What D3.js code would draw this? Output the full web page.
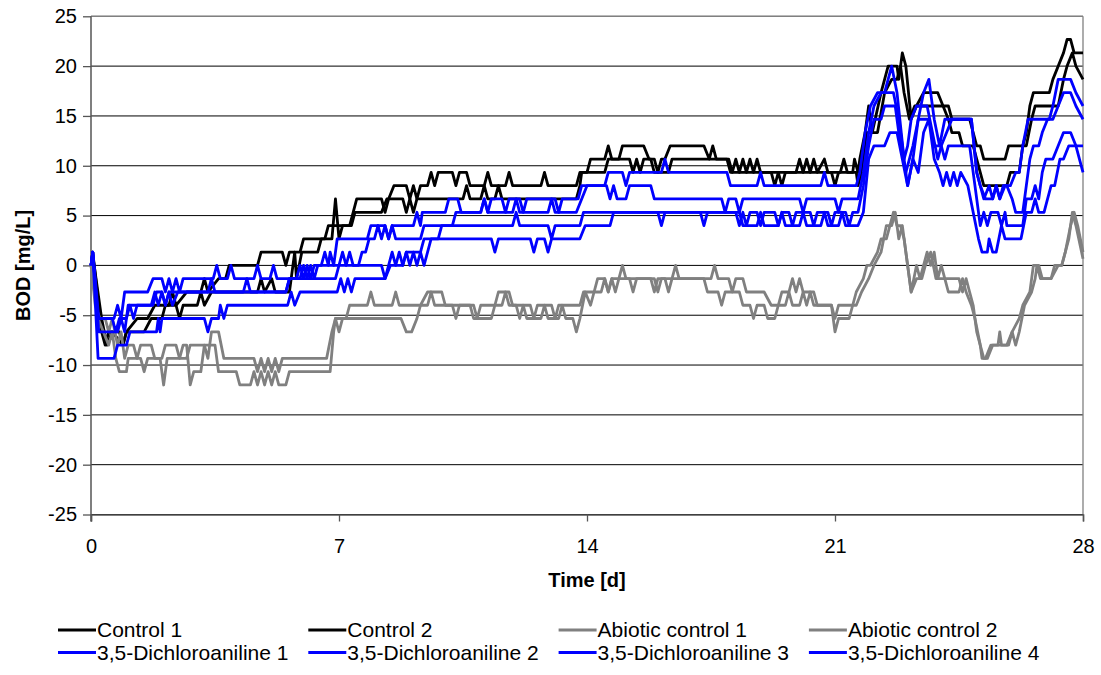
<!DOCTYPE html>
<html>
<head>
<meta charset="utf-8">
<script src="https://cdnjs.cloudflare.com/ajax/libs/d3/7.8.5/d3.min.js"></script>
<style>
    body { margin: 0; background: #fff; }
    text { font-family: "Liberation Sans", Arial, sans-serif; }
</style>
</head>
<body>
<div id="chart"></div>
<script>
// BOD readings [day, mg/L] (turning points only)
const control1 = [[0,0],[0.05,1.33],[0.3,-6.67],[0.4,-8],[0.5,-6.67],[0.8,-6.67],[0.9,-8],[1.0,-6.67],[1.3,-5.33],[1.6,-5.33],[1.8,-4],[2.2,-4],[2.3,-2.67],[2.4,-4],[2.7,-2.67],[3.1,-2.67],[3.2,-1.33],[3.3,-2.67],[3.6,-1.33],[3.8,-1.33],[3.9,0],[4.7,0],[4.8,1.33],[5.4,1.33],[5.5,0],[5.6,1.33],[5.9,1.33],[6.0,2.67],[6.6,2.67],[6.7,4],[7.3,4],[7.4,5.33],[7.5,6.67],[8.2,6.67],[8.3,5.33],[8.4,6.67],[8.55,8],[8.9,8],[9.0,6.67],[9.1,8],[9.2,6.67],[9.3,8],[9.5,8],[9.6,9.33],[9.7,8],[9.8,9.33],[10.2,9.33],[10.3,8],[10.4,9.33],[10.6,9.33],[10.7,8],[11.1,8],[11.2,9.33],[11.3,8],[11.7,8],[11.8,9.33],[11.9,8],[12.7,8],[12.8,9.33],[12.9,8],[13.7,8],[13.8,9.33],[14.0,9.33],[14.1,10.67],[14.5,10.67],[14.6,12],[14.7,10.67],[14.9,10.67],[15.0,12],[15.6,12],[15.75,10.67],[15.9,10.67],[16.0,9.33],[16.1,10.67],[16.2,10.67],[16.35,12],[17.3,12],[17.45,10.67],[17.55,12],[17.65,10.67],[18.0,10.67],[18.1,9.33],[18.2,10.67],[18.3,9.33],[18.4,10.67],[18.5,9.33],[18.6,10.67],[18.7,9.33],[18.8,10.67],[18.9,9.33],[19.9,9.33],[20.0,10.67],[20.1,9.33],[20.2,10.67],[20.3,9.33],[20.4,10.67],[20.5,9.33],[20.7,10.67],[20.8,9.33],[21.15,9.33],[21.25,10.67],[21.35,9.33],[21.5,9.33],[21.55,10.67],[21.65,9.33],[21.7,10.67],[21.85,13.33],[21.95,16],[22.05,13.33],[22.3,17.33],[22.5,20],[22.75,20],[22.8,18.67],[22.9,21.33],[23.0,20],[23.15,14.67],[23.3,16],[23.5,17.33],[23.9,17.33],[24.05,16],[24.2,16],[24.3,14.67],[24.8,14.67],[24.9,13.33],[25.0,12],[25.1,12],[25.2,10.67],[25.8,10.67],[25.9,12],[26.3,12],[26.4,13.33],[26.5,16],[26.6,17.33],[27.05,17.33],[27.15,18.67],[27.3,20],[27.45,21.33],[27.55,22.67],[27.65,22.67],[27.75,21.33],[28,21.33]];

const control2 = [[0,0],[0.05,1.0],[0.3,-5.33],[0.45,-8],[0.6,-6.67],[0.9,-8],[1.0,-6.67],[1.5,-6.67],[1.7,-5.33],[2.0,-5.33],[2.1,-4],[2.4,-4],[2.5,-5.33],[2.6,-4],[3.0,-4],[3.1,-2.67],[3.2,-4],[3.4,-2.67],[4.7,-2.67],[4.8,-1.33],[4.9,-2.67],[5.1,-1.33],[5.2,-2.67],[5.6,-2.67],[5.75,1.33],[5.8,-1.33],[5.95,1.33],[6.4,1.33],[6.5,2.67],[6.8,2.67],[6.9,6.67],[7.0,2.67],[7.1,4],[7.35,4],[7.45,5.33],[8.2,5.33],[8.35,6.67],[8.8,6.67],[8.9,5.33],[9.0,6.67],[9.1,5.33],[9.2,6.67],[10.5,6.67],[10.6,8],[10.7,6.67],[11.0,6.67],[11.1,8],[11.2,6.67],[11.4,6.67],[11.5,8],[11.6,6.67],[13.7,6.67],[13.8,8],[13.85,9.33],[14.5,9.33],[14.6,10.67],[15.2,10.67],[15.3,9.33],[15.4,10.67],[15.5,9.33],[15.6,10.67],[15.8,10.67],[15.9,9.33],[16.3,9.33],[16.4,10.67],[17.95,10.67],[18.05,9.33],[19.2,9.33],[19.3,8],[19.4,9.33],[19.5,8],[19.6,9.33],[20.9,9.33],[21.0,8],[21.1,9.33],[21.6,9.33],[21.65,8],[21.75,9.33],[21.9,13.33],[22.2,13.33],[22.4,17.33],[22.6,18.67],[22.75,18.67],[22.85,20],[22.95,17.33],[23.1,14.67],[23.25,16],[24.05,16],[24.2,14.67],[24.3,13.33],[24.5,13.33],[24.6,12],[24.9,12],[25.0,10.67],[25.1,9.33],[25.2,8],[25.85,8],[25.95,9.33],[26.2,9.33],[26.3,12],[26.4,12],[26.55,14.67],[26.65,16],[27.3,16],[27.45,18.67],[27.55,20],[27.7,21.33],[27.8,20],[28,18.67]];

const abiotic1 = [[0,0],[0.12,-4],[0.25,-5.33],[0.4,-5.33],[0.5,-6.67],[0.6,-5.33],[0.75,-8],[0.85,-6.67],[0.95,-9.33],[1.05,-8],[1.2,-8],[1.3,-9.33],[1.4,-8],[1.7,-8],[1.8,-9.33],[2.0,-9.33],[2.1,-8],[2.4,-8],[2.5,-9.33],[2.7,-9.33],[2.8,-8],[3.2,-8],[3.3,-9.33],[3.4,-6.67],[3.6,-6.67],[3.75,-9.33],[4.6,-9.33],[4.7,-10.67],[4.8,-9.33],[4.9,-10.67],[5.0,-9.33],[5.1,-10.67],[5.2,-9.33],[5.3,-10.67],[5.4,-9.33],[6.65,-9.33],[6.8,-6.67],[6.9,-5.33],[7.2,-5.33],[7.3,-4],[7.8,-4],[7.9,-2.67],[8.0,-4],[8.5,-4],[8.6,-2.67],[8.7,-4],[9.3,-4],[9.5,-2.67],[9.9,-2.67],[10.0,-4],[10.8,-4],[10.9,-5.33],[11.0,-4],[11.4,-4],[11.5,-2.67],[11.8,-2.67],[11.9,-4],[12.4,-4],[12.5,-5.33],[12.6,-4],[13.0,-4],[13.1,-5.33],[13.2,-4],[13.8,-4],[13.9,-2.67],[14.2,-2.67],[14.3,-1.33],[14.5,-1.33],[14.6,-2.67],[14.7,-1.33],[14.9,-1.33],[15.0,0],[15.1,-1.33],[15.9,-1.33],[16.0,-2.67],[16.1,-1.33],[16.4,-1.33],[16.5,0],[16.6,-1.33],[17.5,-1.33],[17.6,0],[17.7,-1.33],[18.0,-1.33],[18.1,-2.67],[18.2,-1.33],[18.4,-1.33],[18.5,-2.67],[19.0,-2.67],[19.2,-4],[19.4,-4],[19.5,-2.67],[19.7,-2.67],[19.8,-1.33],[19.9,-2.67],[20.0,-1.33],[20.1,-2.67],[20.4,-2.67],[20.5,-4],[20.9,-4],[21.0,-5.33],[21.1,-4],[21.5,-4],[21.6,-2.67],[21.8,-1.33],[21.9,0],[22.0,0],[22.2,1.33],[22.3,2.67],[22.45,2.67],[22.65,5.33],[22.75,4],[22.85,4],[22.95,2.67],[23.15,-2.67],[23.3,0],[23.4,-1.33],[23.5,0],[23.6,1.33],[23.7,0],[23.8,1.33],[23.9,-1.33],[24.0,0],[24.1,-1.33],[24.5,-1.33],[24.6,-2.67],[24.7,-1.33],[24.8,-2.67],[24.9,-4],[25.0,-6.67],[25.1,-8],[25.15,-9.33],[25.25,-9.33],[25.4,-8],[25.6,-8],[25.65,-6.67],[25.7,-8],[25.85,-8],[26.0,-6.67],[26.2,-5.33],[26.3,-4],[26.5,-2.67],[26.6,0],[26.75,0],[26.85,-1.33],[27.1,-1.33],[27.3,0],[27.4,0],[27.5,1.33],[27.65,4],[27.75,5.33],[27.85,4],[28,1.33]];

const abiotic2 = [[0,0],[0.1,-2.67],[0.2,-5.33],[0.35,-6.67],[0.5,-8],[0.6,-6.67],[0.7,-9.33],[0.8,-10.67],[1.0,-10.67],[1.05,-9.33],[1.4,-9.33],[1.5,-10.67],[1.6,-9.33],[1.95,-9.33],[2.05,-12],[2.15,-9.33],[2.5,-9.33],[2.6,-8],[2.7,-8],[2.8,-12],[2.9,-10.67],[3.1,-10.67],[3.2,-8],[3.5,-8],[3.6,-10.67],[4.1,-10.67],[4.2,-12],[4.5,-12],[4.6,-10.67],[4.7,-12],[4.8,-10.67],[4.9,-12],[5.0,-10.67],[5.1,-12],[5.2,-10.67],[5.3,-12],[5.5,-12],[5.6,-10.67],[6.75,-10.67],[6.85,-6.67],[6.9,-5.33],[7.0,-6.67],[7.1,-5.33],[8.75,-5.33],[8.9,-6.67],[9.05,-6.67],[9.2,-5.33],[9.3,-4],[9.5,-4],[9.6,-2.67],[9.7,-4],[10.2,-4],[10.3,-5.33],[10.4,-4],[10.7,-4],[10.8,-5.33],[11.3,-5.33],[11.4,-4],[11.6,-4],[11.7,-2.67],[11.8,-4],[12.0,-4],[12.1,-5.33],[12.2,-4],[12.3,-5.33],[12.7,-5.33],[12.8,-4],[12.9,-5.33],[13.2,-5.33],[13.3,-4],[13.4,-5.33],[13.6,-5.33],[13.7,-6.67],[13.8,-5.33],[13.95,-2.67],[14.1,-4],[14.2,-2.67],[14.4,-2.67],[14.5,-1.33],[14.6,-2.67],[14.7,-1.33],[14.8,-2.67],[14.9,-1.33],[15.2,-1.33],[15.3,-2.67],[15.4,-1.33],[15.8,-1.33],[15.9,-2.67],[16.0,-1.33],[16.2,-1.33],[16.3,-2.67],[16.4,-1.33],[17.3,-1.33],[17.4,-2.67],[17.7,-2.67],[17.8,-4],[17.9,-2.67],[18.3,-2.67],[18.4,-4],[18.6,-4],[18.7,-5.33],[18.8,-4],[19.0,-4],[19.1,-5.33],[19.3,-5.33],[19.4,-4],[19.6,-4],[19.7,-2.67],[19.8,-4],[20.0,-4],[20.1,-2.67],[20.2,-4],[20.3,-2.67],[20.4,-4],[20.9,-4],[21.0,-6.67],[21.1,-5.33],[21.4,-5.33],[21.5,-4],[21.6,-4],[21.75,-2.67],[21.95,-1.33],[22.1,0],[22.3,1.33],[22.45,4],[22.6,4],[22.7,5.33],[22.8,2.67],[22.9,4],[23.1,-1.33],[23.15,-2.67],[23.3,-1.33],[23.45,-1.33],[23.55,0],[23.7,1.33],[23.85,-1.33],[24.1,-1.33],[24.2,-2.67],[24.5,-2.67],[24.6,-1.33],[24.7,-2.67],[24.85,-4],[24.95,-5.33],[25.1,-8],[25.2,-9.33],[25.3,-9.33],[25.45,-8],[25.9,-8],[26.0,-6.67],[26.1,-8],[26.2,-6.67],[26.35,-4],[26.55,-2.67],[26.65,-1.33],[26.7,0],[26.8,-1.33],[27.1,-1.33],[27.2,0],[27.4,0],[27.5,1.33],[27.6,2.67],[27.7,5.33],[27.8,4],[28,0.67]];

const dca1 = [[0,0],[0.05,1.33],[0.2,-5.33],[0.65,-5.33],[0.75,-4],[0.85,-5.33],[0.95,-2.67],[1.6,-2.67],[1.75,-1.33],[2.0,-1.33],[2.1,-2.67],[2.2,-1.33],[2.3,-2.67],[2.4,-1.33],[2.5,-2.67],[2.6,-1.33],[3.45,-1.33],[3.55,0],[3.65,-1.33],[3.85,-1.33],[3.95,0],[4.05,-1.33],[4.6,-1.33],[4.7,0],[4.8,-1.33],[5.05,-1.33],[5.15,0],[5.25,-1.33],[5.9,-1.33],[6.0,0],[6.1,-1.33],[6.2,0],[6.3,-1.33],[6.4,0],[6.7,0],[6.75,1.33],[6.85,0],[6.95,2.67],[7.8,2.67],[7.9,4],[8.3,4],[8.4,2.67],[8.5,4],[9.1,4],[9.2,5.33],[9.3,4],[9.35,5.33],[10.0,5.33],[10.1,6.67],[10.35,6.67],[10.45,5.33],[11.0,5.33],[11.1,6.67],[11.2,5.33],[11.3,6.67],[11.6,6.67],[11.7,5.33],[11.8,6.67],[12.1,6.67],[12.2,5.33],[12.3,6.67],[13.1,6.67],[13.2,5.33],[13.3,6.67],[13.75,6.67],[13.85,8],[14.5,8],[14.6,9.33],[15.0,9.33],[15.1,8],[15.2,9.33],[16.1,9.33],[16.2,10.67],[16.3,9.33],[17.95,9.33],[18.05,8],[18.8,8],[18.9,9.33],[19.0,8],[20.6,8],[20.7,9.33],[20.8,8],[21.6,8],[21.7,9.33],[21.85,13.33],[22.0,16],[22.2,17.33],[22.4,17.33],[22.6,20],[22.75,17.33],[22.95,10.67],[23.05,8],[23.2,10.67],[23.35,14.67],[23.5,17.33],[23.65,18.67],[23.8,14.67],[23.95,12],[24.1,14.67],[24.85,14.67],[25.0,9.33],[25.1,8],[25.25,6.67],[25.45,6.67],[25.55,8],[25.65,6.67],[25.8,8],[25.95,8],[26.1,9.33],[26.2,9.33],[26.3,12],[26.45,14.67],[27.05,14.67],[27.15,16],[27.3,18.67],[27.65,18.67],[27.8,17.33],[28,16]];

const dca2 = [[0,0],[0.05,1.33],[0.22,-6.67],[0.75,-6.67],[0.85,-5.33],[0.95,-6.67],[1.05,-4],[1.7,-4],[1.8,-2.67],[1.9,-4],[2.0,-2.67],[2.1,-4],[2.2,-2.67],[3.3,-2.67],[3.4,-1.33],[3.5,-2.67],[4.3,-2.67],[4.4,-1.33],[4.5,-2.67],[5.5,-2.67],[5.6,-1.33],[5.8,-1.33],[5.9,0],[6.0,-1.33],[6.1,0],[6.2,-1.33],[6.3,0],[6.5,0],[6.6,1.33],[6.7,0],[7.0,0],[7.1,1.33],[7.2,0],[7.3,1.33],[7.4,0],[7.55,0],[7.65,1.33],[7.75,1.33],[7.85,2.67],[8.0,2.67],[8.1,4],[8.2,2.67],[8.3,4],[8.4,2.67],[8.5,4],[8.6,2.67],[9.3,2.67],[9.4,4],[10.2,4],[10.3,5.33],[11.0,5.33],[11.1,6.67],[11.2,5.33],[11.9,5.33],[12.0,6.67],[12.1,5.33],[12.9,5.33],[13.0,6.67],[13.1,5.33],[13.7,5.33],[13.85,6.67],[14.0,8],[14.55,8],[14.65,6.67],[14.75,8],[14.85,6.67],[15.1,6.67],[15.2,8],[15.8,8],[15.9,6.67],[17.8,6.67],[17.9,5.33],[18.0,6.67],[18.2,6.67],[18.3,5.33],[18.4,6.67],[20.0,6.67],[20.1,5.33],[20.2,6.67],[21.0,6.67],[21.1,5.33],[21.2,6.67],[21.65,6.67],[21.8,9.33],[21.95,13.33],[22.1,16],[22.3,17.33],[22.65,17.33],[22.8,14.67],[22.95,10.67],[23.05,12],[23.15,14.67],[23.3,16],[23.6,16],[23.75,13.33],[23.9,10.67],[24.0,12],[24.15,13.33],[24.3,14.67],[24.85,14.67],[25.0,9.33],[25.1,8],[25.2,6.67],[25.35,8],[25.45,6.67],[25.55,8],[25.65,6.67],[25.75,8],[25.85,8],[26.0,6.67],[26.1,5.33],[26.3,5.33],[26.4,8],[26.5,10.67],[26.6,12],[26.75,12],[26.85,13.33],[27.0,14.67],[27.15,14.67],[27.3,16],[27.45,17.33],[27.65,17.33],[27.8,16],[28,14.67]];

const dca3 = [[0,0],[0.05,1.33],[0.22,-5.33],[0.6,-5.33],[0.7,-6.67],[0.8,-5.33],[1.0,-5.33],[1.1,-4],[1.2,-5.33],[1.3,-4],[1.75,-4],[1.85,-2.67],[2.0,-2.67],[2.1,-4],[2.2,-2.67],[2.3,-4],[2.45,-2.67],[5.5,-2.67],[5.6,-1.33],[6.9,-1.33],[7.0,0],[8.2,0],[8.3,-1.33],[8.4,0],[8.5,1.33],[8.6,0],[8.7,1.33],[8.8,0],[8.9,1.33],[9.3,1.33],[9.4,2.67],[9.8,2.67],[9.9,4],[11.9,4],[12.0,5.33],[12.1,4],[12.9,4],[13.0,2.67],[13.1,4],[13.8,4],[13.9,5.33],[16.0,5.33],[16.1,4],[16.2,5.33],[17.2,5.33],[17.3,4],[17.4,5.33],[18.2,5.33],[18.3,4],[18.4,5.33],[18.5,4],[18.6,5.33],[18.8,5.33],[18.9,4],[19.0,5.33],[19.3,5.33],[19.4,4],[19.5,5.33],[19.7,5.33],[19.8,4],[19.9,5.33],[20.3,5.33],[20.4,4],[20.5,5.33],[20.8,5.33],[20.9,4],[21.0,5.33],[21.3,5.33],[21.4,4],[21.5,5.33],[21.65,5.33],[21.8,8],[21.95,12],[22.1,14.67],[22.3,14.67],[22.4,16],[22.7,16],[22.85,12],[23.0,9.33],[23.1,10.67],[23.2,12],[23.35,14.67],[23.65,14.67],[23.8,12],[24.0,12],[24.1,10.67],[24.2,12],[24.8,12],[24.95,8],[25.1,4],[25.2,5.33],[25.3,4],[25.4,5.33],[25.6,5.33],[25.7,4],[25.8,5.33],[25.85,4],[26.3,4],[26.4,6.67],[26.55,6.67],[26.65,8],[26.75,6.67],[26.85,9.33],[26.95,10.67],[27.15,10.67],[27.3,12],[27.45,13.33],[27.65,13.33],[27.8,12],[28,12]];

const dca4 = [[0,0],[0.05,1.33],[0.2,-9.33],[0.65,-9.33],[0.75,-8],[1.0,-8],[1.1,-6.67],[1.85,-6.67],[1.9,-5.33],[1.95,-6.67],[2.0,-5.33],[3.2,-5.33],[3.3,-6.67],[3.4,-5.33],[3.6,-5.33],[3.65,-4],[3.75,-5.33],[3.85,-4],[5.55,-4],[5.65,-2.67],[5.75,-4],[5.9,-2.67],[6.95,-2.67],[7.05,-1.33],[7.15,-2.67],[7.25,-1.33],[7.35,-2.67],[7.45,-1.33],[8.3,-1.33],[8.45,0],[8.8,0],[8.9,1.33],[9.0,0],[9.1,1.33],[9.2,0],[9.3,1.33],[9.4,0],[9.5,1.33],[9.6,2.67],[11.3,2.67],[11.4,1.33],[11.5,2.67],[12.4,2.67],[12.5,1.33],[12.6,2.67],[12.8,2.67],[12.9,1.33],[13.0,2.67],[13.8,2.67],[13.95,4],[14.65,4],[14.75,5.33],[18.3,5.33],[18.4,4],[18.8,4],[18.9,5.33],[19.0,4],[19.4,4],[19.5,5.33],[19.6,4],[20.0,4],[20.1,5.33],[20.2,4],[20.6,4],[20.7,5.33],[20.8,4],[21.1,4],[21.2,5.33],[21.3,4],[21.65,4],[21.8,5.33],[21.95,10.67],[22.1,12],[22.4,12],[22.55,13.33],[22.75,13.33],[22.9,10.67],[23.05,8],[23.2,10.67],[23.35,9.33],[23.5,13.33],[23.65,14.67],[23.8,10.67],[23.95,9.33],[24.05,8],[24.15,9.33],[24.25,8],[24.35,9.33],[24.45,8],[24.55,9.33],[24.75,8],[24.9,5.33],[25.05,2.67],[25.15,1.33],[25.3,1.33],[25.35,2.67],[25.45,1.33],[25.55,1.33],[25.7,4],[25.8,2.67],[26.25,2.67],[26.4,5.33],[26.55,5.33],[26.65,6.67],[26.75,5.33],[26.9,5.33],[27.0,6.67],[27.1,8],[27.2,8],[27.35,10.67],[27.45,10.67],[27.6,12],[27.8,12],[28,9.33]];

const seriesNames = ['Control 1', 'Control 2', 'Abiotic control 1', 'Abiotic control 2',
    '3,5-Dichloroaniline 1', '3,5-Dichloroaniline 2', '3,5-Dichloroaniline 3', '3,5-Dichloroaniline 4'];
const seriesColors = ['#000000', '#000000', '#808080', '#808080', '#0000ff', '#0000ff', '#0000ff', '#0000ff'];
const seriesData = [control1, control2, abiotic1, abiotic2, dca1, dca2, dca3, dca4];

const xTicks = [0, 7, 14, 21, 28];
const yTicks = [-25, -20, -15, -10, -5, 0, 5, 10, 15, 20, 25];

const w = 1101,
    h = 675;
const plotLeft = 91, plotRight = 1083, plotTop = 16.3, plotBottom = 514.5;

const svg = d3.select('#chart')
    .append('svg')
    .attr('width', w)
    .attr('height', h)
    .style('display', 'block');

svg.append('rect').attr('width', w).attr('height', h).attr('fill', '#fff');

const xScale = d3.scaleLinear().domain([0, 28]).range([plotLeft, plotRight]);
const yScale = d3.scaleLinear().domain([-25, 25]).range([plotBottom, plotTop]);

// grid lines
svg.append('g')
    .selectAll('line')
    .data(yTicks)
    .enter()
    .append('line')
    .attr('x1', plotLeft)
    .attr('x2', plotRight)
    .attr('y1', d => yScale(d))
    .attr('y2', d => yScale(d))
    .attr('stroke', '#000')
    .attr('stroke-width', 1);

// plot frame (right + top in grey)
svg.append('line')
    .attr('x1', plotRight).attr('x2', plotRight)
    .attr('y1', plotTop).attr('y2', plotBottom)
    .attr('stroke', '#808080').attr('stroke-width', 1.3);
svg.append('line')
    .attr('x1', plotLeft).attr('x2', plotRight)
    .attr('y1', plotTop).attr('y2', plotTop)
    .attr('stroke', '#808080').attr('stroke-width', 1.3);

// y axis - plain hyphen for negatives like the original
const yAxis = d3.axisLeft(yScale)
    .tickValues(yTicks)
    .tickFormat(d => String(d))
    .tickSize(8)
    .tickPadding(6);
const gy = svg.append('g')
    .attr('transform', `translate(${plotLeft},0)`)
    .call(yAxis);

// x axis
const xAxis = d3.axisBottom(xScale)
    .tickValues(xTicks)
    .tickFormat(d => String(d))
    .tickSize(7)
    .tickPadding(17);
const gx = svg.append('g')
    .attr('transform', `translate(0,${plotBottom})`)
    .call(xAxis);

[gx, gy].forEach(g => {
    g.select('.domain').attr('stroke', '#555').attr('stroke-width', 1.5);
    g.selectAll('.tick line').attr('stroke', '#555').attr('stroke-width', 1.3);
    g.selectAll('.tick text')
        .attr('fill', '#000')
        .style('font-size', '20px')
        .style('font-family', '"Liberation Sans", Arial, sans-serif');
});
gy.select('.domain').attr('d', `M0,${plotBottom + 7}V${plotTop}`);

// lines
const line = d3.line()
    .x(d => xScale(d[0]))
    .y(d => yScale(d[1]));

svg.append('g')
    .selectAll('path')
    .data(seriesData)
    .enter()
    .append('path')
    .attr('d', line)
    .attr('fill', 'none')
    .attr('stroke', (d, i) => seriesColors[i])
    .attr('stroke-width', 2.8)
    .attr('stroke-linejoin', 'round');

// axis titles
svg.append('text')
    .attr('transform', `translate(30,${(plotTop + plotBottom) / 2}) rotate(-90)`)
    .attr('text-anchor', 'middle')
    .style('font-size', '20px')
    .style('font-weight', 'bold')
    .text('BOD [mg/L]');

svg.append('text')
    .attr('x', (plotLeft + plotRight) / 2)
    .attr('y', 587)
    .attr('text-anchor', 'middle')
    .style('font-size', '20px')
    .style('font-weight', 'bold')
    .text('Time [d]');

// legend, 4 columns x 2 rows
const legend = svg.append('g')
    .selectAll('g')
    .data(seriesNames)
    .enter()
    .append('g')
    .attr('transform', (d, i) => `translate(${58 + (i % 4) * 250.3},${630 + Math.floor(i / 4) * 22.5})`);

legend.append('line')
    .attr('x1', 0).attr('x2', 38)
    .attr('stroke', (d, i) => seriesColors[i])
    .attr('stroke-width', 3);

legend.append('text')
    .attr('x', 39)
    .attr('dy', '0.35em')
    .style('font-size', '21px')
    .text(d => d);
</script>
</body>
</html>
